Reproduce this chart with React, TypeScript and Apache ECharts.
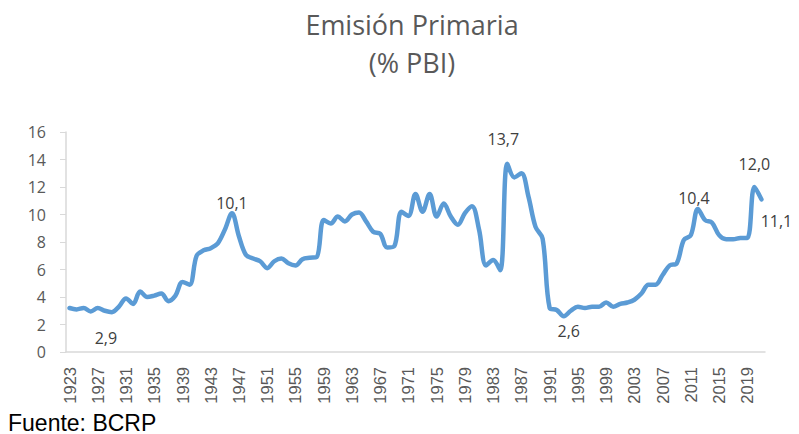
import React, { useEffect, useRef } from "react";
import * as echarts from "echarts";

const years: string[] = [
  "1923","1924","1925","1926","1927","1928","1929","1930","1931","1932",
  "1933","1934","1935","1936","1937","1938","1939","1940","1941","1942",
  "1943","1944","1945","1946","1947","1948","1949","1950","1951","1952",
  "1953","1954","1955","1956","1957","1958","1959","1960","1961","1962",
  "1963","1964","1965","1966","1967","1968","1969","1970","1971","1972",
  "1973","1974","1975","1976","1977","1978","1979","1980","1981","1982",
  "1983","1984","1985","1986","1987","1988","1989","1990","1991","1992",
  "1993","1994","1995","1996","1997","1998","1999","2000","2001","2002",
  "2003","2004","2005","2006","2007","2008","2009","2010","2011","2012",
  "2013","2014","2015","2016","2017","2018","2019","2020","2021",
];

const emisionPrimaria: number[] = [
  3.2, 3.1, 3.2, 2.95, 3.2, 3.0, 2.9, 3.3, 3.9, 3.5,
  4.4, 4.0, 4.1, 4.25, 3.7, 4.1, 5.1, 4.9, 7.0, 7.4,
  7.55, 7.9, 8.9, 10.1, 8.4, 7.05, 6.8, 6.6, 6.1, 6.6,
  6.8, 6.45, 6.3, 6.75, 6.85, 6.9, 9.6, 9.35, 9.85, 9.5,
  10.0, 10.15, 9.5, 8.75, 8.6, 7.6, 7.7, 10.2, 9.9, 11.5,
  10.2, 11.5, 9.85, 10.8, 9.85, 9.25, 10.1, 10.6, 8.9, 6.3,
  6.7, 5.95, 13.7, 12.7, 13.0, 11.3, 9.1, 8.25, 3.2, 3.05,
  2.6, 3.0, 3.3, 3.2, 3.3, 3.3, 3.6, 3.3, 3.5, 3.6,
  3.8, 4.25, 4.9, 4.9, 5.6, 6.3, 6.45, 8.15, 8.5, 10.4,
  9.6, 9.4, 8.5, 8.2, 8.2, 8.3, 8.3, 12.0, 11.1,
];

const labeledYears: string[] = ["1929", "1946", "1985", "1993", "2012", "2020", "2021"];

const yTicks = { min: 0, max: 16, interval: 2 };

const titleLines: string[] = ["Emisión Primaria", "(% PBI)"];
const sourceText = "Fuente: BCRP";

const labelPlacement: Record<string, { position: string; distance: number; padding: number[] }> = {
  "1929": { position: "bottom", distance: 17, padding: [0, 12, 0, 0] },
  "1946": { position: "top", distance: 2, padding: [0, 0, 0, 0] },
  "1985": { position: "top", distance: 16, padding: [0, 8, 0, 0] },
  "1993": { position: "bottom", distance: 6, padding: [0, 0, 0, 10] },
  "2012": { position: "top", distance: 3, padding: [0, 8, 0, 0] },
  "2020": { position: "top", distance: 15, padding: [0, 0, 0, 0] },
  "2021": { position: "bottom", distance: 13, padding: [0, 0, 0, 30] },
};

const fmt = (v: number) => v.toFixed(1).replace(".", ",");

export default function App() {
  const ref = useRef<HTMLDivElement>(null);
  useEffect(() => {
    if (!ref.current) return;
    const chart = echarts.init(ref.current, undefined, { renderer: "svg" });
    const data = emisionPrimaria.map((v, i) => {
      const y = years[i];
      if (labeledYears.includes(y)) {
        const p = labelPlacement[y];
        return {
          value: v,
          label: {
            show: true,
            position: p.position,
            distance: p.distance,
            padding: p.padding,
            fontSize: 16,
            color: "#404040",
            fontFamily: "'Open Sans', sans-serif",
            formatter: () => fmt(v),
          },
        };
      }
      return { value: v };
    });
    chart.setOption({
      animation: false,
      textStyle: { fontFamily: "'Open Sans', sans-serif" },
      graphic: [
        {
          type: "text",
          x: 412,
          y: 24,
          style: {
            text: titleLines[0],
            fontSize: 27,
            fill: "#595959",
            textAlign: "center",
            textVerticalAlign: "middle",
            fontFamily: "'Open Sans', sans-serif",
          },
        },
        {
          type: "text",
          x: 412,
          y: 62,
          style: {
            text: titleLines[1],
            fontSize: 27,
            fill: "#595959",
            textAlign: "center",
            textVerticalAlign: "middle",
            fontFamily: "'Open Sans', sans-serif",
          },
        },
        {
          type: "text",
          x: 8,
          y: 434,
          style: {
            text: sourceText,
            fontSize: 23,
            fill: "#000000",
            textAlign: "left",
            textVerticalAlign: "bottom",
            fontFamily: "'Liberation Sans', Arial, sans-serif",
          },
        },
      ],
      grid: { left: 66, right: 34, top: 132, bottom: 82, containLabel: false },
      xAxis: {
        type: "category",
        data: years,
        boundaryGap: true,
        axisLine: { lineStyle: { color: "#d9d9d9", width: 1.5 } },
        axisTick: { show: false },
        axisLabel: {
          interval: 3,
          rotate: 90,
          margin: 15,
          fontSize: 16.5,
          color: "#595959",
          fontFamily: "'Liberation Sans', Arial, sans-serif",
        },
        splitLine: { show: false },
      },
      yAxis: {
        type: "value",
        min: yTicks.min,
        max: yTicks.max,
        interval: yTicks.interval,
        axisLine: { show: true, lineStyle: { color: "#d9d9d9", width: 1.5 } },
        axisTick: { show: true, length: 6, lineStyle: { color: "#d9d9d9" } },
        axisLabel: { fontSize: 16, color: "#595959", margin: 20 },
        splitLine: { show: false },
      },
      series: [
        {
          type: "line",
          data,
          smooth: 0.35,
          symbol: "circle",
          symbolSize: 1,
          showSymbol: true,
          showAllSymbol: true,
          lineStyle: { color: "#5B9BD5", width: 4.5, cap: "round", join: "round" },
          itemStyle: { color: "#5B9BD5" },
          label: { show: false, fontSize: 16, color: "#404040" },
          labelLayout: { hideOverlap: false },
        },
      ],
    });
    return () => chart.dispose();
  }, []);
  return (
    <div
      ref={ref}
      style={{ position: "fixed", left: 0, top: 0, width: 799, height: 434, background: "#fff" }}
    />
  );
}
